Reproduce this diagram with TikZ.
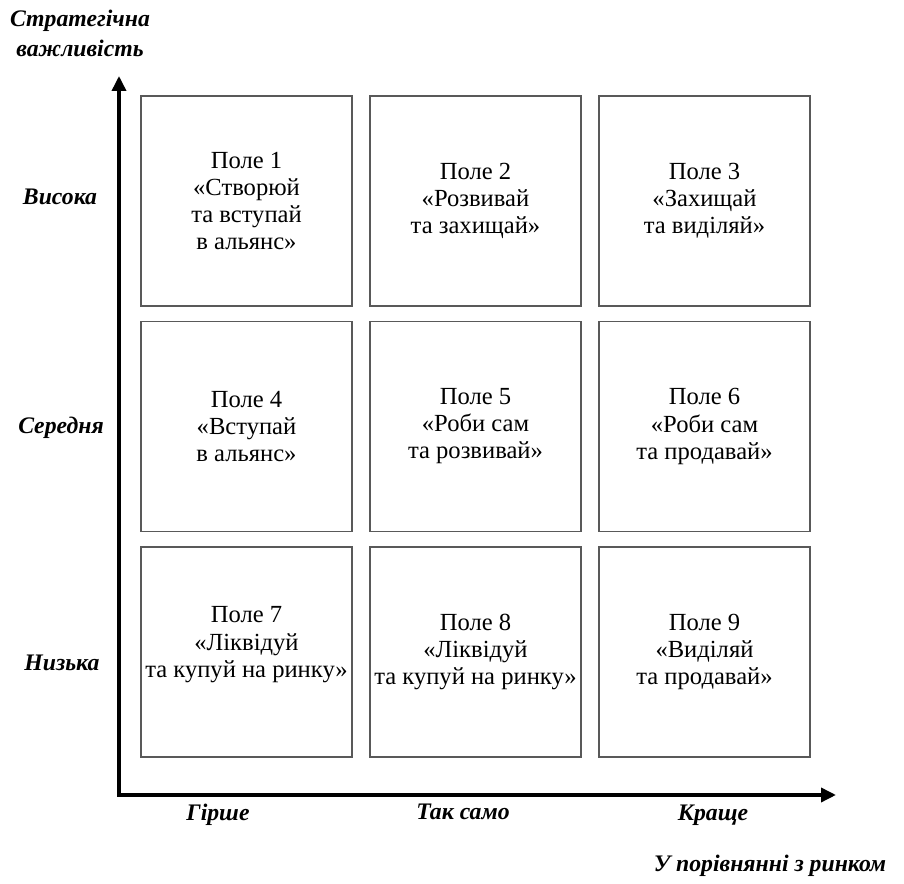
\documentclass[tikz,border=0pt]{standalone}
\usepackage{fontspec}
\setmainfont{Liberation Serif}
\usetikzlibrary{arrows.meta}

\tikzset{
  field/.style={draw=black!65, line width=0.8pt, minimum width=4.22cm, minimum height=4.2cm,
    inner xsep=1pt, align=center, font=\fontsize{14}{15.4}\selectfont},
  axislabel/.style={font=\fontsize{13.5}{17}\selectfont\bfseries\itshape, align=center},
  axis/.style={line width=2pt, {Triangle[length=0.3cm,width=0.28cm]}-{Triangle[length=0.3cm,width=0.28cm]}}
}

\begin{document}
\begin{tikzpicture}[x=0.02cm,y=-0.02cm]
\useasboundingbox (0,0) rectangle (904,884);

% fields of the matrix
\node[field] (f1) at (246.5,201) {Поле 1\\«Створюй\\та вступай\\в альянс»};
\node[field] (f2) at (475.5,201) {Поле 2\\«Розвивай\\та захищай»};
\node[field] (f3) at (704.5,201) {Поле 3\\«Захищай\\та виділяй»};
\node[field] (f4) at (246.5,426.5) {Поле 4\\«Вступай\\в альянс»};
\node[field] (f5) at (475.5,426.5) {Поле 5\\«Роби сам\\та розвивай»};
\node[field] (f6) at (704.5,426.5) {Поле 6\\«Роби сам\\та продавай»};
\node[field] (f7) at (246.5,652) {Поле 7\\«Ліквідуй\\та купуй на ринку»\\[-4pt]\mbox{}};
\node[field] (f8) at (475.5,652) {Поле 8\\«Ліквідуй\\та купуй на ринку»};
\node[field] (f9) at (704.5,652) {Поле 9\\«Виділяй\\та продавай»};

% axes
\coordinate (o) at (119,795);
\coordinate (ytip) at (119,76);
\coordinate (xtip) at (836,795);
\draw[axis] (ytip) -- (o) -- (xtip);

% vertical axis labels
\node[axislabel] (ytitle) at (80,33) {Стратегічна\\важливість};
\node[axislabel] (high) at (60,197) {Висока};
\node[axislabel] (mid) at (61,428) {Середня};
\node[axislabel] (low) at (62,663) {Низька};

% horizontal axis labels
\node[axislabel] (worse) at (218,815) {Гірше};
\node[axislabel] (same) at (463,812) {Так само};
\node[axislabel] (better) at (713,815) {Краще};
\node[axislabel] (xtitle) at (770,866) {У порівнянні з ринком};
\end{tikzpicture}
\end{document}
